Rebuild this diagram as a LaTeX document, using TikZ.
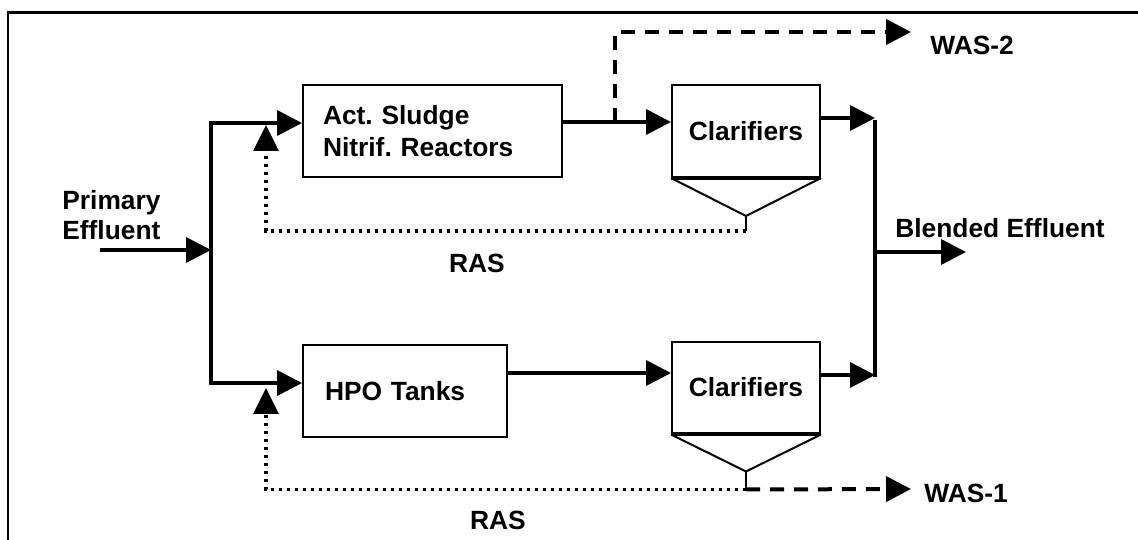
\documentclass[tikz,border=0pt]{standalone}
\usepackage{fontspec}
\setmainfont{Liberation Sans}
\usetikzlibrary{arrows.meta,calc}
\frenchspacing
\begin{document}
\begin{tikzpicture}[x=0.02cm,y=-0.02cm,
  every node/.style={font=\bfseries\fontsize{15}{17}\selectfont},
  unit/.style={draw,line width=0.04cm,inner ysep=0pt,minimum height=1.84cm},
  lbl/.style={inner sep=0pt,align=left},
  flow/.style={line width=0.07cm,-{Triangle[length=0.5cm,width=0.5cm]}},
  ras/.style={line width=0.065cm,dash pattern=on 0.06cm off 0.1cm,-{Triangle[length=0.52cm,width=0.5cm]}},
  was/.style={line width=0.08cm,dash pattern=on 0.28cm off 0.2cm,-{Triangle[length=0.5cm,width=0.5cm]}},
  pipe/.style={line width=0.07cm},
  hopper/.style={line width=0.04cm},
  frame/.style={line width=0.06cm}]
\useasboundingbox (0,0) rectangle (1138,540);
% frame (only top and left edges visible)
\coordinate (fbl) at (8,540);
\coordinate (ftl) at (8,13);
\coordinate (ftr) at (1138,13);
\draw[frame] (fbl) -- (ftl) -- (ftr);

% units
\node[unit, inner xsep=0.4cm, text width=4.38cm, align=left] (reactor) at (432.5,131) {\raisebox{-0.06cm}{\parbox{4.38cm}{Act. Sludge\\[1pt]Nitrif. Reactors}}};
\node[unit, inner xsep=0.44cm, text width=3.2cm, align=left] (hpo) at (405,391) {HPO Tanks};
\node[unit, minimum width=2.96cm, inner xsep=0pt] (clar1) at (746,131) {Clarifiers};
\node[unit, minimum width=2.96cm, inner xsep=0pt] (clar2) at (746,387.5) {Clarifiers};

% hoppers
\draw[hopper] (clar1.south west) -- ($(clar1.south)+(0,38)$) coordinate (h1) -- (clar1.south east);
\draw[hopper] (h1) -- ++(0,15) coordinate (s1);
\draw[pipe] (clar1.south west) -- (clar1.south east);
\draw[hopper] (clar2.south west) -- ($(clar2.south)+(0,37)$) coordinate (h2) -- (clar2.south east);
\draw[hopper] (h2) -- ++(0,18) coordinate (s2);
\draw[pipe] (clar2.south west) -- (clar2.south east);

% influent split
\coordinate (pe) at (100,250);
\coordinate (jmid) at (211,250);
\coordinate (jtop) at (211,123);
\coordinate (jbot) at (211,383);
\draw[flow] (pe) -- (jmid);
\draw[flow] (jmid) |- (reactor.west |- jtop);
\draw[flow] (jmid) |- (hpo.west |- jbot);
\node[lbl, anchor=west] (pelbl) at (62,215) {Primary\\Effluent};

% reactors to clarifiers
\coordinate (r1) at ($(reactor.east)+(0,-9)$);
\draw[flow] (r1) -- (r1 -| clar1.west);
\coordinate (r2) at ($(hpo.east)+(0,-18)$);
\draw[flow] (r2) -- (r2 -| clar2.west);

% WAS-2
\coordinate (w2) at (615,122);
\coordinate (was2end) at (911,32);
\draw[was] (w2) |- (was2end);
\node[lbl, anchor=west] (was2) at (930,45) {WAS-2};

% clarifier outlets and blending
\coordinate (btop) at (875,120);
\coordinate (bbot) at (875,377);
\draw[pipe] (btop) -- (bbot);
\coordinate (c1o) at ($(clar1.east)+(0,-13)$);
\draw[flow] (c1o) -- (c1o -| btop);
\coordinate (c2o) at ($(clar2.east)+(0,-12.5)$);
\draw[flow] (c2o) -- (c2o -| btop);
\coordinate (bmid) at (875,252);
\coordinate (bend) at (966,252);
\draw[flow] (bmid) -- (bend);
\node[lbl, anchor=west] (blend) at (895,228) {Blended Effluent};

% RAS returns
\coordinate (ras1tip) at (266,125);
\draw[ras] (s1) -| (ras1tip);
\node (ras1) at (477,263) {RAS};
\coordinate (ras2tip) at (266,388);
\draw[ras] (s2) -| (ras2tip);
\node (ras2) at (498,520) {RAS};

% WAS-1
\coordinate (was1end) at (911,489);
\draw[was] (s2) -- (was1end);
\node[lbl, anchor=west] (was1) at (924,493) {WAS-1};
\end{tikzpicture}
\end{document}
